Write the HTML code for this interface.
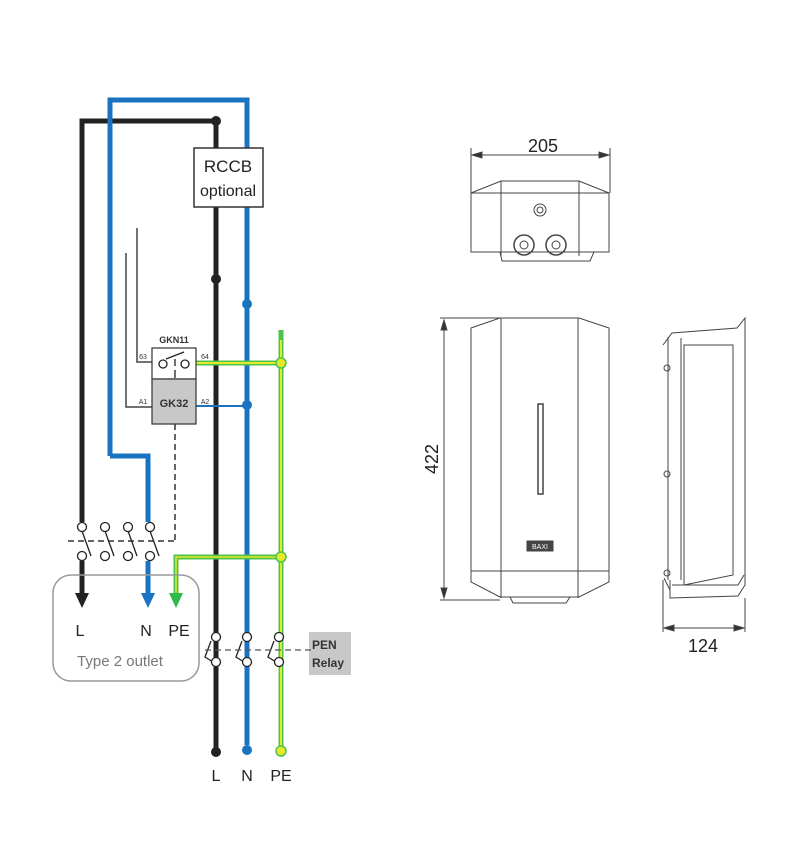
<!DOCTYPE html>
<html><head><style>body{margin:0;background:#fff}svg{display:block}text{font-family:"Liberation Sans",sans-serif}</style></head><body>
<svg width="798" height="850" viewBox="0 0 798 850" xmlns="http://www.w3.org/2000/svg">
<defs>
<marker id="ab" markerWidth="10" markerHeight="10" refX="5" refY="5" orient="auto" markerUnits="userSpaceOnUse"><path d="M0,0 L10,5 L0,10Z" fill="#222"/></marker>
<marker id="ad" markerWidth="12" markerHeight="12" refX="10" refY="6" orient="auto" markerUnits="userSpaceOnUse"><path d="M0,2 L10,6 L0,10" fill="none" stroke="#333" stroke-width="1"/></marker>
</defs>
<g fill="none" stroke-linecap="butt">
<!-- black L -->
<path d="M216,121 V752" stroke="#222" stroke-width="5"/>
<path d="M216,121 H82 V522" stroke="#222" stroke-width="5"/>
<path d="M82,561 V598" stroke="#222" stroke-width="5"/>
<polygon points="75,593 89,593 82,608" fill="#222"/>
<!-- blue N -->
<path d="M110,456 V100 H247 V745" stroke="#1a73c0" stroke-width="5"/>
<path d="M110,456 H148 V522" stroke="#1a73c0" stroke-width="5"/>
<path d="M148,561 V598" stroke="#1a73c0" stroke-width="5"/>
<polygon points="141,593 155,593 148,608" fill="#1a73c0"/>
<!-- PE -->
<path d="M281,330 V751" stroke="#4cc44c" stroke-width="5"/>
<path d="M281,340 V751" stroke="#e6e82a" stroke-width="2"/>
<path d="M196,363 H281" stroke="#4cc44c" stroke-width="5"/>
<path d="M196,363 H281" stroke="#e6e82a" stroke-width="2"/>
<path d="M281,557 H176 V598" stroke="#4cc44c" stroke-width="5"/>
<path d="M281,557 H176 V596" stroke="#e6e82a" stroke-width="1.5"/>
<polygon points="169,593 183,593 176,608" fill="#2ebb4c"/>
<!-- gray control wires -->
<path d="M137,228 V362 H152" stroke="#444" stroke-width="1.5"/>
<path d="M126,253 V407 H152" stroke="#444" stroke-width="1.5"/>
<path d="M196,406 H247" stroke="#1a73c0" stroke-width="2"/>
<path d="M175,424 V541 M68,541 H175" stroke="#333" stroke-width="1.5" stroke-dasharray="6,4"/>
</g>
<!-- dots -->
<g>
<circle cx="216" cy="121" r="5" fill="#222"/><circle cx="216" cy="279" r="5" fill="#222"/><circle cx="216" cy="752" r="5" fill="#222"/>
<circle cx="247" cy="304" r="5" fill="#1a73c0"/><circle cx="247" cy="405" r="5" fill="#1a73c0"/><circle cx="247" cy="750" r="5" fill="#1a73c0"/>
<circle cx="281" cy="363" r="5" fill="#e6e82a" stroke="#4cc44c" stroke-width="1.5"/>
<circle cx="281" cy="557" r="5" fill="#e6e82a" stroke="#4cc44c" stroke-width="1.5"/>
<circle cx="281" cy="751" r="5" fill="#e6e82a" stroke="#4cc44c" stroke-width="1.5"/>
</g>
<!-- RCCB -->
<rect x="194" y="148" width="69" height="59" fill="#fff" stroke="#333" stroke-width="1.5"/>
<text x="228" y="172" font-size="17" text-anchor="middle" fill="#222">RCCB</text>
<text x="228" y="196" font-size="16" text-anchor="middle" fill="#222">optional</text>
<!-- relay -->
<text x="174" y="343" font-size="9" font-weight="bold" text-anchor="middle" fill="#333">GKN11</text>
<rect x="152" y="348" width="44" height="31" fill="#fff" stroke="#333" stroke-width="1.2"/>
<rect x="152" y="379" width="44" height="45" fill="#c8c8c8" stroke="#333" stroke-width="1.2"/>
<circle cx="163" cy="364" r="4" fill="#fff" stroke="#222" stroke-width="1.3"/><circle cx="185" cy="364" r="4" fill="#fff" stroke="#222" stroke-width="1.3"/>
<path d="M166,359 L184,352 M175,359 V366 M175,370 V378" stroke="#222" stroke-width="1.3"/>
<text x="174" y="407" font-size="11" font-weight="bold" text-anchor="middle" fill="#333">GK32</text>
<text x="143" y="359" font-size="7" fill="#333" text-anchor="middle">63</text>
<text x="205" y="359" font-size="7" fill="#333" text-anchor="middle">64</text>
<text x="143" y="404" font-size="7" fill="#333" text-anchor="middle">A1</text>
<text x="205" y="404" font-size="7" fill="#333" text-anchor="middle">A2</text>
<!-- left switches -->
<g stroke="#222" stroke-width="1.3" fill="#fff">
<path d="M82,531 L91,556 M105,531 L114,556 M128,531 L137,556 M150,531 L159,556" fill="none"/>
<circle cx="82" cy="527" r="4.5"/><circle cx="105" cy="527" r="4.5"/><circle cx="128" cy="527" r="4.5"/><circle cx="150" cy="527" r="4.5"/>
<circle cx="82" cy="556" r="4.5"/><circle cx="105" cy="556" r="4.5"/><circle cx="128" cy="556" r="4.5"/><circle cx="150" cy="556" r="4.5"/>
</g>
<rect x="53" y="575" width="146" height="106" rx="18" fill="none" stroke="#999" stroke-width="1.5"/>
<text x="80" y="636" font-size="16" text-anchor="middle" fill="#222">L</text>
<text x="146" y="636" font-size="16" text-anchor="middle" fill="#222">N</text>
<text x="179" y="636" font-size="16" text-anchor="middle" fill="#222">PE</text>
<text x="120" y="666" font-size="15" text-anchor="middle" fill="#777">Type 2 outlet</text>
<!-- PEN relay -->
<rect x="309" y="632" width="42" height="43" fill="#c8c8c8"/>
<text x="312" y="649" font-size="12" font-weight="bold" fill="#333">PEN</text>
<text x="312" y="667" font-size="12" font-weight="bold" fill="#333">Relay</text>
<g stroke="#222" stroke-width="1.3" fill="#fff">
<path d="M211,641 L205,657 L213,662 M242,641 L236,657 L244,662 M274,641 L268,657 L276,662" fill="none"/>
<path d="M205,650 H315" stroke="#555" stroke-dasharray="6,4" fill="none"/>
<circle cx="216" cy="637" r="4.5"/><circle cx="247" cy="637" r="4.5"/><circle cx="279" cy="637" r="4.5"/>
<circle cx="216" cy="662" r="4.5"/><circle cx="247" cy="662" r="4.5"/><circle cx="279" cy="662" r="4.5"/>
</g>
<text x="216" y="781" font-size="16" text-anchor="middle" fill="#222">L</text>
<text x="247" y="781" font-size="16" text-anchor="middle" fill="#222">N</text>
<text x="281" y="781" font-size="16" text-anchor="middle" fill="#222">PE</text>

<!-- right drawings -->
<g fill="none" stroke="#444" stroke-width="1">
<path d="M471,148 V193 M610,148 V193"/>
<path d="M472,155 H609"/>
<path d="M472,155 l10,-3 v6z M609,155 l-10,-3 v6z" fill="#333"/>
<!-- top view -->
<path d="M471,193 L501,181 H579 L609,193 V252 H471 Z"/>
<path d="M501,181 V256 M579,181 V256 M471,193 H609"/>
<path d="M500,252 L502,261 H590 L594,252"/>
<circle cx="540" cy="210" r="6"/><circle cx="540" cy="210" r="3"/>
<circle cx="524" cy="245" r="10" stroke-width="1.5"/><circle cx="524" cy="245" r="4"/>
<circle cx="556" cy="245" r="10" stroke-width="1.5"/><circle cx="556" cy="245" r="4"/>
<!-- front view -->
<path d="M440,318 H500 M440,600 H500"/>
<path d="M444,320 V598"/>
<path d="M444,320 l-3,10 h6z M444,598 l-3,-10 h6z" fill="#333"/>
<path d="M471,328 L500,318 H579 L609,328 V582 L579,597 H500 L471,582 Z"/>
<path d="M501,318 V598 M578,318 V598 M471,571 H609"/>
<rect x="538" y="404" width="5" height="90" stroke-width="1.5"/>
<rect x="527" y="541" width="26" height="10" fill="#444"/>
<text x="540" y="549" font-size="7" fill="#fff" text-anchor="middle" stroke="none">BAXI</text>
<path d="M510,597 L513,603 H566 L570,597"/>
<!-- side view -->
<path d="M663,345 L672,333 L737,328 L745,318 V585 L738,596 L670,598 V580"/>
<path d="M668,337 V580 M681,338 V580 M684,345 H733 V575 L684,585 Z"/>
<path d="M664,578 L670,590 M744,575 L738,585 H672"/>
<circle cx="667" cy="368" r="3"/><circle cx="667" cy="474" r="3"/><circle cx="667" cy="573" r="3"/>
<path d="M663,580 V632 M745,598 V632"/>
<path d="M664,628 H744"/>
<path d="M664,628 l10,-3 v6z M744,628 l-10,-3 v6z" fill="#333"/>
</g>
<text x="543" y="152" font-size="18" text-anchor="middle" fill="#222">205</text>
<text x="703" y="652" font-size="18" text-anchor="middle" fill="#222">124</text>
<text x="0" y="0" font-size="18" text-anchor="middle" fill="#222" transform="translate(438,459) rotate(-90)">422</text>
</svg>
</body></html>
